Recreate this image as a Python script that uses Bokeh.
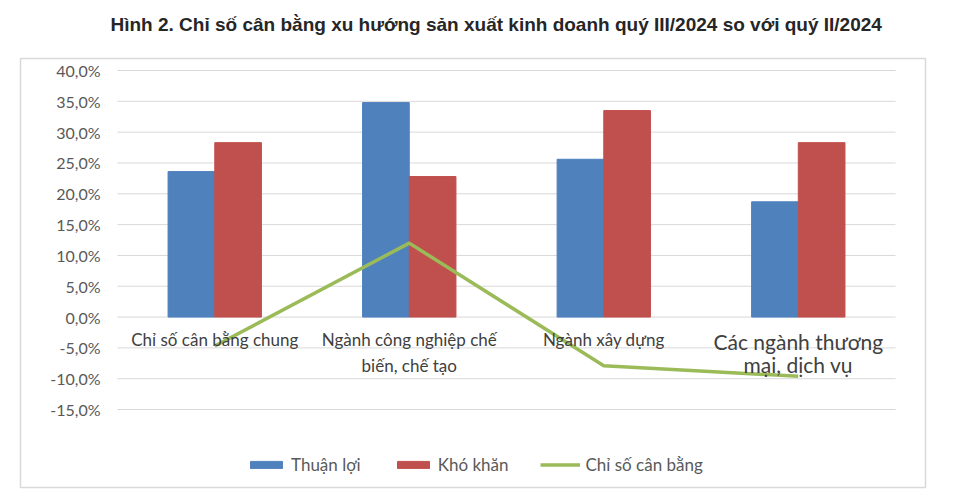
from bokeh.plotting import figure
from bokeh.models import (ColumnDataSource, Range1d, Legend, LegendItem,
                          CDSView, IndexFilter, Title)
from bokeh.transform import dodge
from bokeh.core.properties import value
from bokeh.embed import file_html
from bokeh.resources import INLINE

# ---- data ----
categories = ["Chỉ số cân bằng chung",
              "Ngành công nghiệp chế biến, chế tạo",
              "Ngành xây dựng",
              "Các ngành thương mại, dịch vụ"]
category_labels = ["Chỉ số cân bằng chung",
                   "Ngành công nghiệp chế\nbiến, chế tạo",
                   "Ngành xây dựng",
                   "Các ngành thương\nmại, dịch vụ"]
thuan_loi = [23.6, 34.8, 25.6, 18.7]
kho_khan = [28.3, 22.8, 33.5, 28.3]
can_bang = [-4.7, 12.0, -7.9, -9.6]
y_ticks = [-15, -10, -5, 0, 5, 10, 15, 20, 25, 30, 35, 40]
y_tick_labels = ["-15,0%", "-10,0%", "-5,0%", "0,0%", "5,0%", "10,0%",
                 "15,0%", "20,0%", "25,0%", "30,0%", "35,0%", "40,0%"]
series_names = ["Thuận lợi", "Khó khăn", "Chỉ số cân bằng"]
title_text = "Hình 2. Chỉ số cân bằng xu hướng sản xuất kinh doanh quý III/2024 so với quý II/2024"

# ---- styles ----
BLUE = "#4f81bd"
RED = "#c0504d"
GREEN = "#9bbb59"
FONT = "Lato"

n = len(categories)
idx = list(range(n))
source = ColumnDataSource(dict(i=idx, cat=categories, lab=category_labels,
                               tl=thuan_loi, kk=kho_khan, cb=can_bang))
grid_src = ColumnDataSource(dict(y=y_ticks, lab=y_tick_labels,
                                 x0=[-0.5] * len(y_ticks),
                                 x1=[n - 0.5] * len(y_ticks)))

p = figure(x_range=Range1d(-0.9987, n - 1 + 0.654),
           y_range=Range1d(-27.65, 41.95),
           width=945, height=495, output_backend="svg", toolbar_location=None,
           min_border_left=20, min_border_right=20, min_border_top=58,
           min_border_bottom=8, title=None)

# spacer between the frame and the title (first "above" item is innermost)
p.add_layout(Title(text=" ", text_font_size="10px", standoff=10,
                   vertical_align="middle"), "above")
p.add_layout(Title(text=title_text, text_font="Liberation Sans",
                   text_font_size="19px", text_font_style="bold",
                   text_color="#262626", align="left", offset=90,
                   vertical_align="middle", standoff=0), "above")

p.outline_line_color = "#d9d9d9"
p.outline_line_width = 1.5
p.grid.visible = False
p.xaxis.visible = False
p.yaxis.visible = False

# horizontal grid lines at the y ticks, spanning the category band
p.segment(x0="x0", x1="x1", y0="y", y1="y", source=grid_src,
          line_color="#d9d9d9", line_width=1)
# y tick labels
p.text(x="x0", y="y", text="lab", source=grid_src, text_font=value(FONT),
       text_font_size="16px", text_color="#595959", text_align="right",
       text_baseline="middle", x_offset=-17)

r1 = p.vbar(x=dodge("i", -0.12), top="tl", bottom=0, width=0.24,
            source=source, fill_color=BLUE, line_color=BLUE)
r2 = p.vbar(x=dodge("i", 0.12), top="kk", bottom=0, width=0.24,
            source=source, fill_color=RED, line_color=RED)
r3 = p.line(x="i", y="cb", source=source, line_color=GREEN, line_width=3.5)

# category labels (next to the 0 line)
p.text(x="i", y=0, text="lab", source=source,
       view=CDSView(filter=IndexFilter(idx[:-1])), text_font=value(FONT),
       text_font_size="17px", text_color="#404040", text_align="center",
       text_baseline="top", y_offset=12, text_line_height=1.25)
p.text(x="i", y=0, text="lab", source=source,
       view=CDSView(filter=IndexFilter(idx[-1:])), text_font=value(FONT),
       text_font_size="21px", text_color="#404040", text_align="center",
       text_baseline="top", y_offset=12, text_line_height=0.9)

legend = Legend(items=[LegendItem(label=series_names[0], renderers=[r1]),
                       LegendItem(label=series_names[1], renderers=[r2]),
                       LegendItem(label=series_names[2], renderers=[r3])],
                orientation="horizontal", location=(226, 12),
                border_line_color=None, background_fill_alpha=0,
                label_text_font=FONT, label_text_font_size="17px",
                label_text_color="#595959", glyph_width=40, glyph_height=9,
                spacing=32, label_standoff=5, margin=0, padding=10)
p.add_layout(legend)

open("out.html", "w").write(file_html(p, INLINE))
